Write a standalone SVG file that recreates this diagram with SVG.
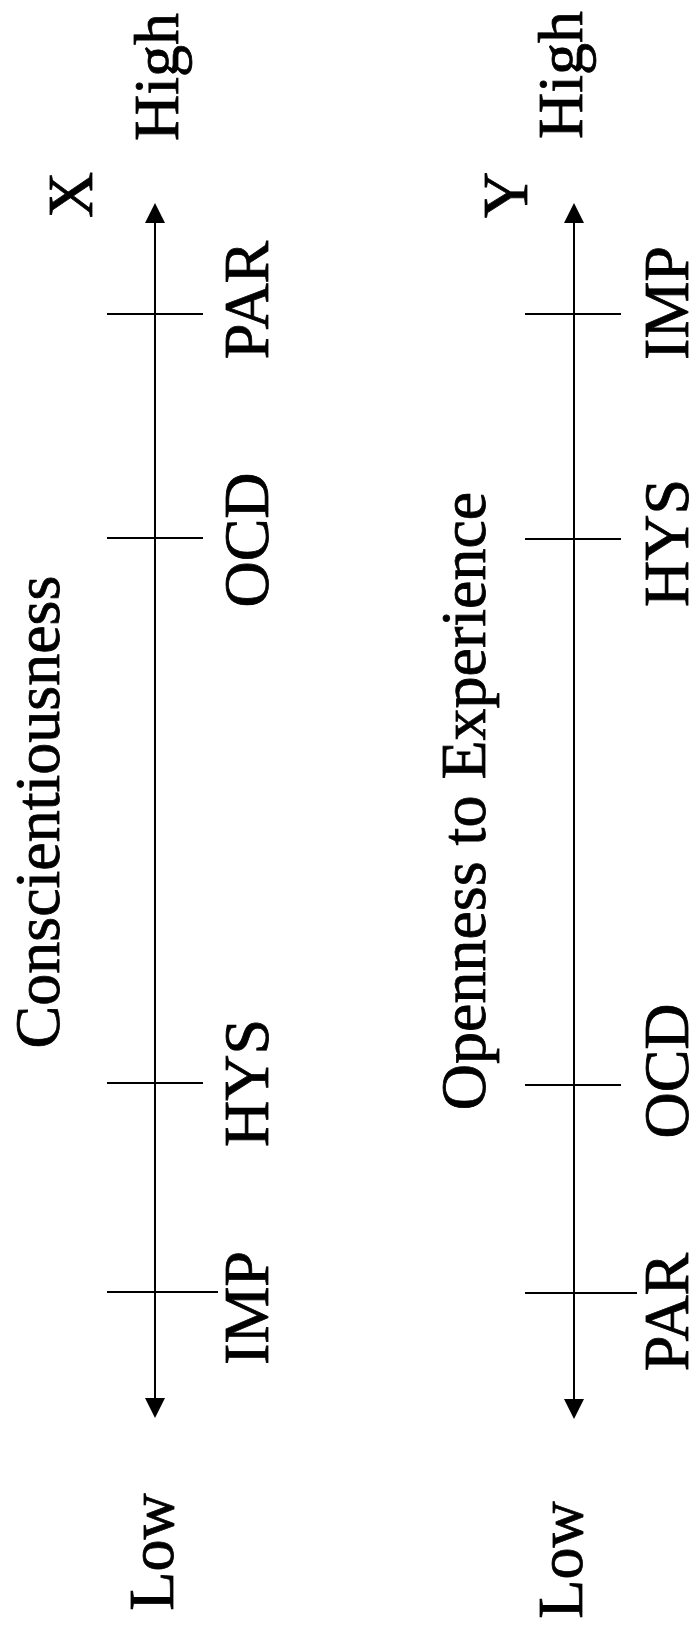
<svg xmlns="http://www.w3.org/2000/svg" width="692" height="1627" viewBox="0 0 692 1627">
  <defs>
    <style>
      .lbl { font-family: "Liberation Serif", "Times New Roman", serif; font-size: 64px; fill: #000; stroke: #000; stroke-width: 0.8; text-anchor: middle; }
      .axis { stroke: #000; stroke-width: 2; fill: none; }
      .tick { stroke: #000; stroke-width: 2; }
    </style>
    <marker id="arrow" viewBox="0 0 20 20" refX="10" refY="10" markerWidth="20" markerHeight="20" markerUnits="userSpaceOnUse" orient="auto-start-reverse">
      <path d="M0,0 L20,10 L0,20 z" fill="#000"/>
    </marker>
  </defs>
  <rect width="692" height="1627" fill="#fff"/>

  <!-- axes and tick marks -->
  <g id="connectors">
    <line class="axis" x1="155" y1="1408" x2="155" y2="213" marker-start="url(#arrow)" marker-end="url(#arrow)"/>
    <line class="axis" x1="574" y1="1409" x2="574" y2="213" marker-start="url(#arrow)" marker-end="url(#arrow)"/>
    <line class="tick" x1="107" y1="314" x2="203" y2="314"/>
    <line class="tick" x1="107" y1="538" x2="203" y2="538"/>
    <line class="tick" x1="107" y1="1083" x2="203" y2="1083"/>
    <line class="tick" x1="107" y1="1292" x2="218" y2="1292"/>
    <line class="tick" x1="525" y1="314" x2="621" y2="314"/>
    <line class="tick" x1="525" y1="539" x2="621" y2="539"/>
    <line class="tick" x1="525" y1="1085" x2="621" y2="1085"/>
    <line class="tick" x1="525" y1="1293" x2="637" y2="1293"/>
  </g>

  <!-- Conscientiousness scale (X) -->
  <g id="title-x"><text class="lbl" transform="translate(59,812) rotate(-90)">Conscientiousness</text></g>
  <g id="axis-x-name"><text class="lbl" transform="translate(92,195) rotate(-90)">X</text></g>
  <g id="axis-x-high"><text class="lbl" transform="translate(178,77) rotate(-90)">High</text></g>
  <g id="axis-x-low"><text class="lbl" transform="translate(173,1552) rotate(-90)">Low</text></g>
  <g id="x-par"><text class="lbl" transform="translate(268,300) rotate(-90)">PAR</text></g>
  <g id="x-ocd"><text class="lbl" transform="translate(268,540) rotate(-90)">OCD</text></g>
  <g id="x-hys"><text class="lbl" transform="translate(268,1083) rotate(-90)">HYS</text></g>
  <g id="x-imp"><text class="lbl" transform="translate(268,1308) rotate(-90)">IMP</text></g>

  <!-- Openness to Experience scale (Y) -->
  <g id="title-y"><text class="lbl" transform="translate(485,801) rotate(-90)">Openness to Experience</text></g>
  <g id="axis-y-name"><text class="lbl" transform="translate(527,195) rotate(-90)">Y</text></g>
  <g id="axis-y-high"><text class="lbl" transform="translate(582,75) rotate(-90)">High</text></g>
  <g id="axis-y-low"><text class="lbl" transform="translate(582,1560) rotate(-90)">Low</text></g>
  <g id="y-imp"><text class="lbl" transform="translate(688,303) rotate(-90)">IMP</text></g>
  <g id="y-hys"><text class="lbl" transform="translate(688,543) rotate(-90)">HYS</text></g>
  <g id="y-ocd"><text class="lbl" transform="translate(688,1071) rotate(-90)">OCD</text></g>
  <g id="y-par"><text class="lbl" transform="translate(688,1312) rotate(-90)">PAR</text></g>
</svg>
